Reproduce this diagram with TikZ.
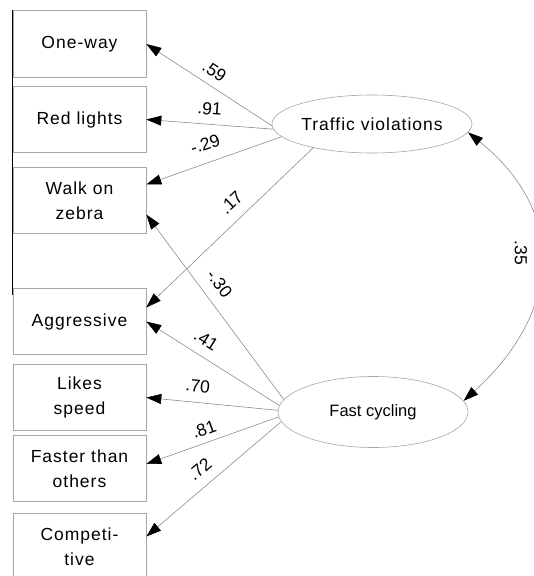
\documentclass[tikz,border=0pt]{standalone}
\usepackage{fontspec}
\setmainfont{Liberation Sans}
\newfontfamily\spacedfont{Liberation Sans}[LetterSpace=5.7]
\usetikzlibrary{arrows.meta,shapes.geometric,calc}

\tikzset{
  indicator/.style={draw=black!35, line width=0.6pt, minimum width=133pt,
    minimum height=66.5pt, inner sep=0pt, align=center,
    font=\spacedfont\fontsize{17.5}{25}\selectfont},
  latent/.style={ellipse, draw=black!35, line width=0.6pt, inner sep=0pt},
  path/.style={draw=black!45, line width=0.6pt,
    -{Triangle[length=15pt,width=10pt,color=black]}},
  covpath/.style={draw=black!45, line width=0.6pt,
    {Triangle[length=15pt,width=10pt,color=black]}-{Triangle[length=15pt,width=10pt,color=black]}},
  coef/.style={sloped, inner sep=1pt, font=\fontsize{17.5}{20}\selectfont},
}

\begin{document}
\begin{tikzpicture}[x=1pt,y=-1pt]
\useasboundingbox (0,0) rectangle (534,576);

% observed indicators
\node[indicator] (oneway) at (79.5,44)    {One-way};
\node[indicator] (red)    at (79.5,119.5) {Red lights};
\node[indicator] (walk)   at (79.5,200.5) {Walk on\\zebra};
\node[indicator] (aggr)   at (79.5,321.5) {Aggressive};
\node[indicator] (likes)  at (79.5,397.5) {Likes\\speed};
\node[indicator] (faster) at (79.5,468.5) {Faster than\\others};
\node[indicator] (comp)   at (79.5,546.5) {Competi-\\tive};

% dark rule along the upper boxes
\draw[black, line width=0.9pt] (oneway.north west) -- ($(aggr.north west)+(0,7)$);

% latent factors
\node[latent, minimum width=170pt, minimum height=58pt,
      font=\spacedfont\fontsize{17.5}{20}\selectfont] (tv) at (372,124) {Traffic violations};
\node[latent, minimum width=190pt, minimum height=71pt,
      font=\fontsize{16.5}{20}\selectfont] (fc) at (373,412) {Fast cycling};

% loadings of Traffic violations
\draw[path] (tv.181) -- (oneway.east) node[coef, pos=0.52, above=7pt] {.59};
\draw[path] (tv.183) -- (red.east) node[coef, pos=0.51, above=8pt] {.91};
\draw[path] (tv.188) -- ($(walk.east)+(0,-16)$) node[coef, pos=0.52, above=11pt] {-.29};
\draw[path] (tv.202) -- ($(aggr.east)+(0,-14)$) node[coef, pos=0.42, above=10pt] {.17};

% loadings of Fast cycling
\draw[path] (fc.172) -- ($(walk.east)+(0,14)$) node[coef, pos=0.57, above=10pt] {-.30};
\draw[path] (fc.176) -- (aggr.east) node[coef, pos=0.615, above=9pt] {.41};
\draw[path] (fc.179) -- (likes.east) node[coef, pos=0.62, above=9pt] {.70};
\draw[path] (fc.183) -- ($(faster.east)+(0,-4.5)$) node[coef, pos=0.53, above=6pt] {.81};
\draw[path] (fc.186) -- ($(comp.east)+(0,-10)$) node[coef, pos=0.525, above=9pt] {.72};

% factor covariance
\draw[covpath] (tv.-5) .. controls +(103,83) and +(94,-85) .. (fc.7);
\node[rotate=-90, inner sep=1pt, font=\fontsize{17.5}{20}\selectfont] (cov) at (521,253) {.35};
\end{tikzpicture}
\end{document}
